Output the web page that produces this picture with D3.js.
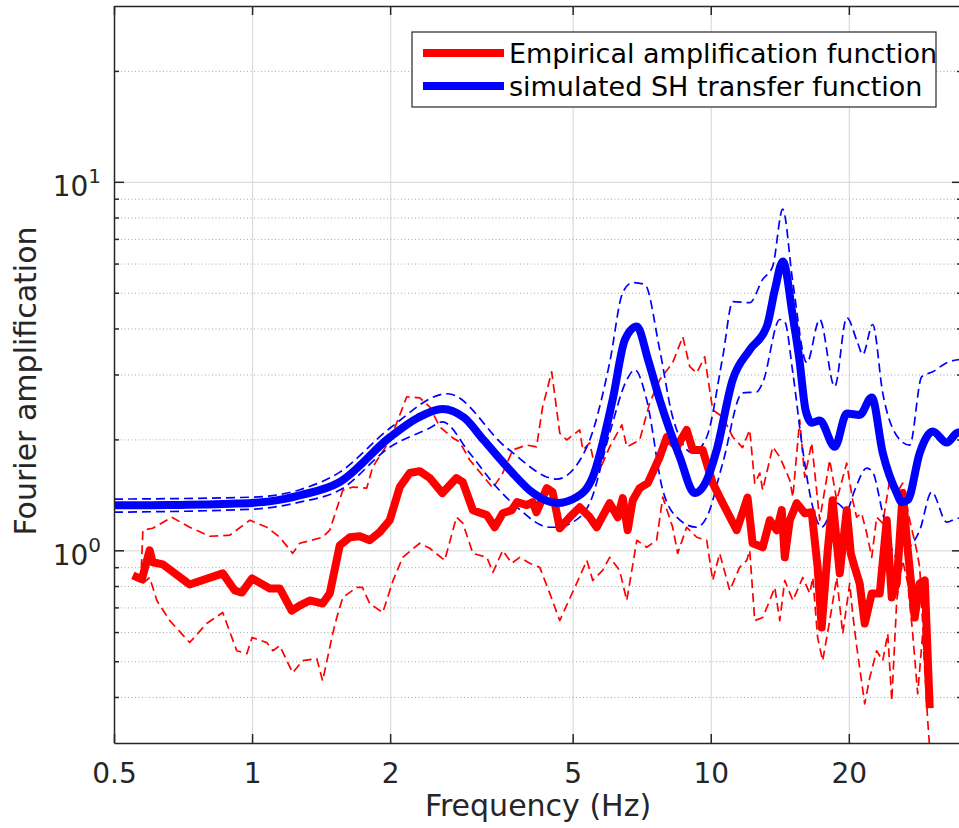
<!DOCTYPE html>
<html><head><meta charset="utf-8">
<script src="https://cdn.jsdelivr.net/npm/d3@7"></script>
<style>html,body{margin:0;padding:0;background:#fff;overflow:hidden}</style>
</head><body>
<svg id="chart" width="959" height="828"></svg>
<script>
// ---------- data ----------
const xTickValues = [0.5, 1, 2, 5, 10, 20];
const xTickLabels = ["0.5", "1", "2", "5", "10", "20"];
const yTickValues = [1, 10];
const yTickBase = ["10", "10"];
const yTickExp = ["0", "1"];
const yMinorValues = [0.4, 0.5, 0.6, 0.7, 0.8, 0.9, 2, 3, 4, 5, 6, 7, 8, 9, 20];
const xDomain = [0.5, 35.3];
const yDomain = [0.3, 30];

const legendLabels = ["Empirical amplification function", "simulated SH transfer function"];
const xLabel = "Frequency (Hz)";
const yLabel = "Fourier amplification";

// simulated SH transfer function (blue, thick)
const simFreq = [0.5, 0.6, 0.7, 0.8, 0.9, 1.0, 1.1, 1.27, 1.55, 2.0, 2.3, 2.6, 2.9, 3.2, 3.65, 4.1, 4.62, 5.1, 5.53, 6.11, 6.5, 6.9, 7.3, 7.74, 8.56, 9.23, 9.8, 10.3, 11.16, 12.16, 13.25, 13.8, 14.36, 15.1, 15.6, 16.1, 16.6, 17.28, 18.64, 19.8, 21.12, 22.44, 23.71, 25.44, 26.09, 26.89, 28.56, 30.48, 32.7, 34.38, 35.5];
const simAmp  = [1.326, 1.326, 1.328, 1.332, 1.338, 1.345, 1.36, 1.41, 1.53, 2.03, 2.29, 2.42, 2.29, 1.99, 1.65, 1.43, 1.343, 1.394, 1.58, 2.56, 3.73, 4.05, 3.29, 2.56, 1.79, 1.43, 1.55, 1.87, 2.90, 3.50, 4.05, 5.10, 6.08, 4.31, 3.3, 2.4, 2.22, 2.25, 1.91, 2.35, 2.33, 2.6, 1.84, 1.43, 1.35, 1.37, 1.84, 2.10, 1.96, 2.08, 2.1];
// upper / lower bounds of simulation (blue dashed)
const simUpFreq = [0.5, 1.0, 1.27, 1.553, 2.0, 2.67, 3.59, 4.62, 5.37, 6.02, 6.43, 6.76, 7.18, 7.74, 8.26, 9.14, 9.80, 10.62, 11.17, 12.16, 12.98, 13.65, 14.35, 15.1, 16.2, 17.28, 18.63, 19.79, 20.9, 21.44, 22.55, 23.71, 25.56, 27.15, 28.84, 30.47, 32.7, 34.55, 35.5];
const simUpAmp  = [1.377, 1.394, 1.46, 1.63, 2.147, 2.66, 1.896, 1.561, 1.908, 3.23, 5.01, 5.33, 5.27, 3.50, 2.30, 1.837, 2.03, 3.35, 4.73, 4.70, 5.435, 5.90, 8.43, 5.33, 3.23, 4.23, 2.78, 4.28, 3.66, 3.395, 4.10, 2.676, 2.03, 1.93, 2.96, 3.05, 3.23, 3.29, 3.3];
const simLoFreq = [0.5, 1.0, 1.27, 1.553, 2.0, 2.44, 2.60, 2.98, 3.41, 3.78, 4.457, 4.69, 4.93, 5.447, 6.02, 6.56, 6.83, 7.25, 7.86, 8.43, 9.32, 9.80, 10.62, 11.73, 12.60, 12.98, 14.14, 14.5, 15.1, 15.87, 16.69, 17.45, 18.82, 19.79, 20.6, 21.88, 22.55, 23.71, 25.44, 26.75, 28.55, 30.32, 32.7, 34.55, 35.5];
const simLoAmp  = [1.269, 1.293, 1.351, 1.457, 1.908, 2.147, 2.23, 1.837, 1.485, 1.309, 1.155, 1.155, 1.18, 1.343, 2.08, 2.90, 3.09, 2.56, 1.457, 1.23, 1.155, 1.23, 1.725, 2.676, 2.69, 2.85, 4.23, 4.17, 3.03, 1.872, 1.309, 1.155, 1.343, 1.285, 1.457, 1.672, 1.63, 1.261, 0.957, 1.0, 1.134, 1.439, 1.192, 1.222, 1.22];

// empirical amplification function (red, thick)
const empFreq = [0.5496, 0.575, 0.598, 0.607, 0.639, 0.731, 0.863, 0.917, 0.950, 1.0, 1.093, 1.149, 1.22, 1.27, 1.336, 1.425, 1.477, 1.553, 1.633, 1.717, 1.805, 1.898, 1.996, 2.099, 2.207, 2.32, 2.44, 2.60, 2.79, 2.88, 3.03, 3.25, 3.38, 3.52, 3.68, 3.78, 3.97, 4.09, 4.17, 4.39, 4.52, 4.686, 4.927, 5.181, 5.447, 5.64, 6.02, 6.27, 6.43, 6.59, 6.76, 7.0, 7.29, 7.74, 8.02, 8.43, 8.86, 9.14, 9.60, 10.1, 10.62, 11.39, 12.03, 12.34, 12.98, 13.45, 13.93, 14.28, 14.5, 14.87, 15.4, 16.03, 16.6, 17.1, 17.45, 17.99, 18.44, 19.11, 19.79, 20.2, 20.6, 21.12, 21.66, 22.44, 23.36, 24.19, 24.81, 25.44, 26.21, 26.89, 27.84, 28.55, 29.28, 30.02];
const empAmp  = [0.855, 0.834, 1.0, 0.928, 0.916, 0.808, 0.866, 0.778, 0.768, 0.839, 0.788, 0.788, 0.686, 0.708, 0.731, 0.717, 0.764, 1.032, 1.085, 1.092, 1.065, 1.12, 1.207, 1.485, 1.621, 1.64, 1.571, 1.43, 1.571, 1.531, 1.285, 1.246, 1.155, 1.261, 1.285, 1.351, 1.326, 1.351, 1.269, 1.475, 1.439, 1.148, 1.23, 1.309, 1.23, 1.155, 1.343, 1.23, 1.386, 1.134, 1.368, 1.475, 1.522, 1.792, 2.03, 1.908, 2.122, 1.872, 1.872, 1.522, 1.343, 1.134, 1.39, 1.045, 1.019, 1.207, 1.134, 1.285, 0.957, 1.207, 1.343, 1.261, 1.269, 0.899, 0.617, 1.0, 1.368, 0.866, 1.285, 0.98, 0.899, 0.813, 0.633, 0.764, 0.764, 1.207, 0.745, 0.813, 1.43, 1.0, 0.657, 0.813, 0.8285, 0.373];
// upper / lower bounds of empirical (red dashed)
const empUpFreq = [0.572, 0.578, 0.607, 0.668, 0.731, 0.809, 0.894, 0.989, 1.077, 1.149, 1.226, 1.27, 1.425, 1.477, 1.577, 1.658, 1.778, 1.832, 2.0, 2.174, 2.32, 2.44, 2.566, 2.74, 2.836, 2.982, 3.136, 3.35, 3.52, 3.70, 3.97, 4.17, 4.30, 4.50, 4.686, 4.85, 5.18, 5.26, 5.447, 5.53, 5.728, 6.02, 6.40, 6.56, 7.0, 7.36, 7.74, 8.26, 8.69, 9.0, 9.32, 9.70, 10.1, 10.62, 11.17, 11.73, 12.16, 12.47, 12.79, 12.98, 13.65, 14.14, 14.87, 15.1, 15.63, 16.03, 16.6, 17.28, 18.17, 18.82, 19.79, 20.39, 20.8, 21.33, 21.88, 22.44, 23.0, 23.71, 24.56, 25.44, 26.21, 27.15, 28.12, 28.55, 29.57];
const empUpAmp  = [0.82, 1.134, 1.148, 1.23, 1.155, 1.092, 1.099, 1.207, 1.155, 1.085, 0.981, 1.045, 1.085, 1.134, 1.457, 1.485, 1.475, 1.683, 1.993, 2.61, 2.593, 2.45, 2.163, 2.018, 1.968, 1.758, 1.631, 1.475, 1.621, 1.872, 1.93, 1.908, 2.45, 3.05, 2.08, 1.993, 2.122, 1.872, 1.956, 1.792, 1.6515, 1.908, 2.19, 1.908, 1.993, 2.513, 2.903, 3.23, 3.80, 3.15, 3.03, 3.35, 2.405, 2.30, 2.03, 1.9, 2.122, 1.522, 1.621, 1.457, 1.908, 1.792, 1.551, 1.394, 2.259, 1.58, 1.956, 1.207, 1.758, 1.368, 1.725, 1.368, 1.23, 1.261, 1.112, 0.957, 1.23, 1.185, 1.551, 1.43, 1.522, 1.207, 1.0, 0.899, 0.39];
const empLoFreq = [0.578, 0.598, 0.620, 0.6615, 0.731, 0.796, 0.863, 0.926, 0.974, 1.0, 1.077, 1.11, 1.149, 1.226, 1.289, 1.384, 1.425, 1.499, 1.53, 1.577, 1.69, 1.74, 1.805, 1.927, 2.03, 2.13, 2.32, 2.44, 2.63, 2.79, 2.88, 3.03, 3.25, 3.35, 3.52, 3.68, 3.833, 4.03, 4.238, 4.457, 4.686, 4.927, 5.10, 5.37, 5.53, 5.81, 6.02, 6.33, 6.56, 6.90, 7.25, 7.62, 7.86, 8.26, 8.47, 8.86, 9.32, 9.80, 10.1, 10.46, 11.0, 11.56, 11.98, 12.16, 12.47, 12.98, 13.45, 13.79, 14.14, 14.5, 15.1, 15.87, 16.44, 16.69, 17.1, 17.54, 18.17, 18.82, 19.4, 20.09, 20.4, 20.8, 21.12, 21.66, 22.21, 23.0, 23.71, 24.32, 24.81, 25.44, 26.21, 26.89, 27.56, 28.26, 28.98, 29.72, 30.02];
const empLoAmp  = [0.813, 0.844, 0.731, 0.6447, 0.562, 0.633, 0.678, 0.534, 0.524, 0.580, 0.5616, 0.534, 0.551, 0.465, 0.5017, 0.508, 0.4425, 0.5943, 0.657, 0.745, 0.793, 0.793, 0.717, 0.678, 0.8285, 0.957, 1.045, 1.013, 0.939, 1.23, 1.185, 0.981, 0.957, 0.871, 1.0, 0.922, 0.957, 0.922, 0.899, 0.764, 0.6447, 0.74, 0.813, 0.939, 0.8285, 0.882, 0.957, 0.882, 0.731, 1.0647, 1.019, 1.0647, 1.394, 1.155, 0.981, 1.155, 1.085, 1.0647, 0.8285, 0.981, 0.778, 0.899, 0.939, 1.0, 0.6447, 0.657, 0.731, 0.793, 0.6447, 0.8285, 0.731, 0.844, 0.764, 0.844, 0.580, 0.5017, 0.6447, 0.844, 0.594, 0.813, 0.67, 0.55, 0.48, 0.383, 0.451, 0.534, 0.5017, 0.594, 0.3904, 0.731, 0.939, 0.813, 0.594, 0.408, 0.594, 0.3443, 0.29];

// ---------- chart ----------
const W = 959, H = 828;
const M = {left: 114, right: 962, top: 6, bottom: 743};
const FONT = "'DejaVu Sans', sans-serif";
const AX = "#262626";
const RED = "#ff0000", BLUE = "#0000ff";

const svg = d3.select("#chart");
const x = d3.scaleLog().domain(xDomain).range([M.left, M.right]);
const y = d3.scaleLog().domain(yDomain).range([M.bottom, M.top]);

svg.append("defs").append("clipPath").attr("id", "plotclip")
  .append("rect").attr("x", M.left).attr("y", M.top)
  .attr("width", M.right - M.left).attr("height", M.bottom - M.top);

// grid
const gx = svg.append("g").attr("transform", `translate(0,${M.bottom})`)
  .call(d3.axisBottom(x).tickValues(xTickValues.slice(1)).tickSize(-(M.bottom - M.top)).tickFormat(""));
gx.select(".domain").remove();
gx.selectAll("line").attr("stroke", "#dcdcdc").attr("stroke-width", 1.2);

const gyMinor = svg.append("g").attr("transform", `translate(${M.left},0)`)
  .call(d3.axisLeft(y).tickValues(yMinorValues).tickSize(-(M.right - M.left)).tickFormat(""));
gyMinor.select(".domain").remove();
gyMinor.selectAll("line").attr("stroke", "#a8a8a8").attr("stroke-width", 1).attr("stroke-dasharray", "1,2.5");

const gyMajor = svg.append("g").attr("transform", `translate(${M.left},0)`)
  .call(d3.axisLeft(y).tickValues(yTickValues).tickSize(-(M.right - M.left)).tickFormat(""));
gyMajor.select(".domain").remove();
gyMajor.selectAll("line").attr("stroke", "#dcdcdc").attr("stroke-width", 1.2);

// data lines
const plot = svg.append("g").attr("clip-path", "url(#plotclip)");
function series(fr, am) { return fr.map((f, i) => [f, am[i]]); }
const lineLin = d3.line().x(d => x(d[0])).y(d => y(d[1]));
const lineSmooth = d3.line().x(d => x(d[0])).y(d => y(d[1])).curve(d3.curveMonotoneX);

function draw(data, gen, color, width, dash) {
  const p = plot.append("path").datum(data).attr("d", gen)
    .attr("fill", "none").attr("stroke", color).attr("stroke-width", width)
    .attr("stroke-linejoin", "round").attr("stroke-linecap", "butt");
  if (dash) p.attr("stroke-dasharray", dash);
}
draw(series(empUpFreq, empUpAmp), lineLin, RED, 1.7, "9,5");
draw(series(empLoFreq, empLoAmp), lineLin, RED, 1.7, "9,5");
draw(series(simUpFreq, simUpAmp), lineSmooth, BLUE, 1.7, "9,5");
draw(series(simLoFreq, simLoAmp), lineSmooth, BLUE, 1.7, "9,5");
draw(series(empFreq, empAmp), lineLin, RED, 8, null);
draw(series(simFreq, simAmp), lineSmooth, BLUE, 8, null);

// axes (ticks inward)
function styleAxis(g) {
  g.select(".domain").attr("stroke", AX).attr("stroke-width", 1.5);
  g.selectAll(".tick line").attr("stroke", AX).attr("stroke-width", 1.5);
}
const xb = svg.append("g").attr("transform", `translate(0,${M.bottom})`)
  .call(d3.axisBottom(x).tickValues(xTickValues).tickSizeInner(-9).tickSizeOuter(0).tickPadding(20)
    .tickFormat((d, i) => xTickLabels[i]));
styleAxis(xb);
xb.selectAll("text").attr("font-family", FONT).attr("font-size", 28).attr("fill", AX);

const xt = svg.append("g").attr("transform", `translate(0,${M.top})`)
  .call(d3.axisTop(x).tickValues(xTickValues).tickSizeInner(-9).tickSizeOuter(0).tickFormat(""));
styleAxis(xt);

const yl = svg.append("g").attr("transform", `translate(${M.left},0)`)
  .call(d3.axisLeft(y).tickValues(yTickValues).tickSizeInner(-10).tickSizeOuter(0).tickFormat(""));
styleAxis(yl);
const ylm = svg.append("g").attr("transform", `translate(${M.left},0)`)
  .call(d3.axisLeft(y).tickValues(yMinorValues).tickSizeInner(-5).tickSizeOuter(0).tickFormat(""));
styleAxis(ylm); ylm.select(".domain").remove();

const yr = svg.append("g").attr("transform", `translate(${M.right},0)`)
  .call(d3.axisRight(y).tickValues(yTickValues).tickSizeInner(-10).tickSizeOuter(0).tickFormat(""));
styleAxis(yr);
const yrm = svg.append("g").attr("transform", `translate(${M.right},0)`)
  .call(d3.axisRight(y).tickValues(yMinorValues).tickSizeInner(-5).tickSizeOuter(0).tickFormat(""));
styleAxis(yrm); yrm.select(".domain").remove();

// y tick labels 10^n
yTickValues.forEach((v, i) => {
  const t = svg.append("text").attr("x", 101).attr("y", y(v) + 14.5)
    .attr("text-anchor", "end").attr("font-family", FONT).attr("fill", AX);
  t.append("tspan").attr("font-size", 28).text(yTickBase[i]);
  t.append("tspan").attr("font-size", 20).attr("dy", -13).text(yTickExp[i]);
});

// axis labels
svg.append("text").attr("x", (M.left + M.right) / 2).attr("y", 816)
  .attr("text-anchor", "middle").attr("font-family", FONT).attr("font-size", 30).attr("fill", AX)
  .text(xLabel);
svg.append("text").attr("transform", `translate(36,381) rotate(-90)`)
  .attr("text-anchor", "middle").attr("font-family", FONT).attr("font-size", 30).attr("fill", AX)
  .text(yLabel);

// legend
const lg = svg.append("g");
lg.append("rect").attr("x", 412).attr("y", 32).attr("width", 524).attr("height", 75)
  .attr("fill", "#fff").attr("stroke", AX).attr("stroke-width", 1.2);
const legendColors = [RED, BLUE];
const legendY = [53, 86];
legendLabels.forEach((lab, i) => {
  lg.append("line").attr("x1", 423).attr("x2", 504).attr("y1", legendY[i]).attr("y2", legendY[i])
    .attr("stroke", legendColors[i]).attr("stroke-width", 8);
  lg.append("text").attr("x", 509).attr("y", legendY[i] + 9.5)
    .attr("font-family", FONT).attr("font-size", 27).attr("fill", "#000").text(lab);
});
</script>
</body></html>
